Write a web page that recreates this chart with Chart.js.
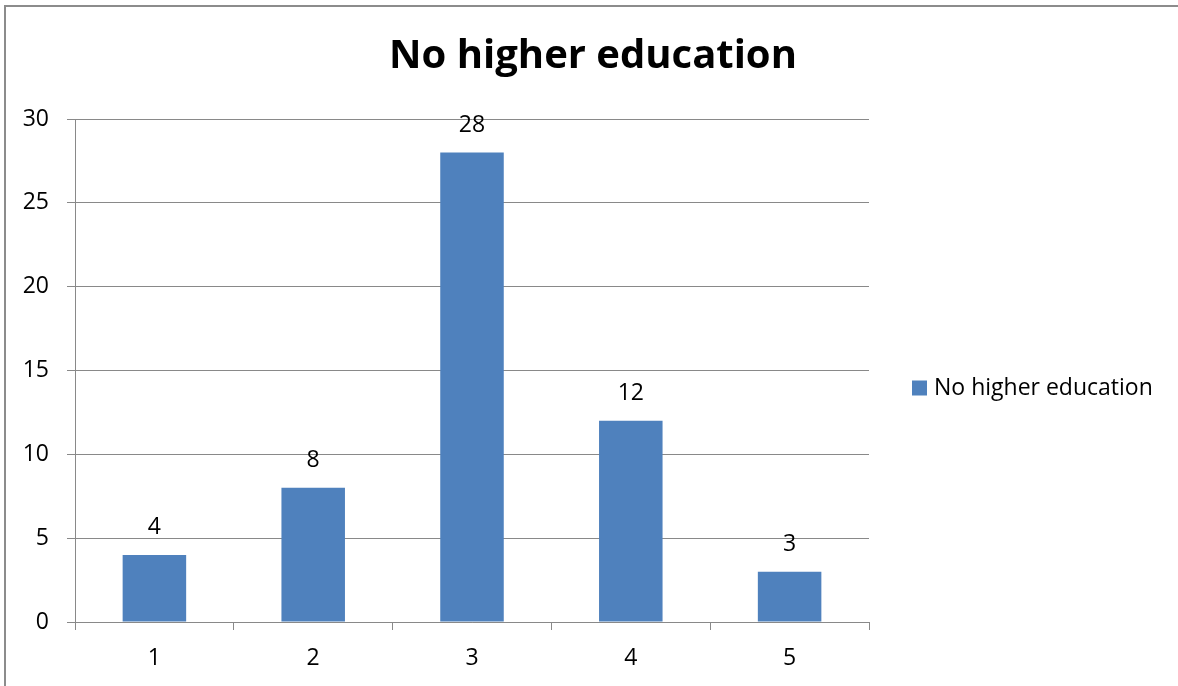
<!DOCTYPE html>
<html>
<head>
<meta charset="utf-8">
<script src="https://cdn.jsdelivr.net/npm/chart.js@4"></script>
<style>
html,body{margin:0;padding:0;background:#fff;}
canvas{display:block;}
</style>
</head>
<body>
<canvas id="c" width="1178" height="686"></canvas>
<script>
const categories = ['1', '2', '3', '4', '5'];
const seriesName = 'No higher education';
const chartTitle = 'No higher education';
const values = [4, 8, 28, 12, 3];
const yTicks = [0, 5, 10, 15, 20, 25, 30];

const FONT = "'Open Sans', 'Liberation Sans', sans-serif";
const BAR = '#4F81BD';
const GRID = '#898989';

const frame = {
  id: 'frame',
  beforeDraw(chart) {
    const ctx = chart.ctx;
    ctx.save();
    ctx.strokeStyle = '#8c8c8c';
    ctx.lineWidth = 2;
    ctx.beginPath();
    ctx.moveTo(5, 700);
    ctx.lineTo(5, 6);
    ctx.lineTo(1200, 6);
    ctx.stroke();
    ctx.restore();
  }
};

const titlePlugin = {
  id: 'titlePlugin',
  afterDraw(chart) {
    const ctx = chart.ctx;
    ctx.save();
    ctx.font = 'bold 40px ' + FONT;
    ctx.fillStyle = '#000';
    ctx.textAlign = 'center';
    ctx.textBaseline = 'middle';
    ctx.fillText(chartTitle, 593, 57);
    ctx.restore();
  }
};

const valueLabels = {
  id: 'valueLabels',
  afterDatasetsDraw(chart) {
    const ctx = chart.ctx;
    ctx.save();
    ctx.font = '23px ' + FONT;
    ctx.fillStyle = '#000';
    ctx.textAlign = 'center';
    ctx.textBaseline = 'middle';
    const meta = chart.getDatasetMeta(0);
    meta.data.forEach((el, i) => {
      ctx.fillText(String(chart.data.datasets[0].data[i]), el.x, el.y - 27);
    });
    ctx.restore();
  }
};

const sideLegend = {
  id: 'sideLegend',
  afterDraw(chart) {
    const ctx = chart.ctx;
    const ds = chart.data.datasets[0];
    const x = chart.chartArea.right + 43;
    const y = 388;
    ctx.save();
    ctx.fillStyle = ds.backgroundColor;
    ctx.fillRect(x, y - 7.5, 15, 15);
    ctx.font = '23px ' + FONT;
    ctx.fillStyle = '#000';
    ctx.textAlign = 'left';
    ctx.textBaseline = 'middle';
    ctx.fillText(ds.label, x + 22, y);
    ctx.restore();
  }
};

new Chart(document.getElementById('c'), {
  type: 'bar',
  data: {
    labels: categories,
    datasets: [{
      label: seriesName,
      data: values,
      backgroundColor: BAR,
      categoryPercentage: 1,
      barPercentage: 0.4
    }]
  },
  options: {
    responsive: false,
    animation: false,
    layout: { padding: { left: 0, right: 309, top: 119, bottom: 0 } },
    plugins: {
      legend: { display: false },
      tooltip: { enabled: false },
      title: { display: false }
    },
    scales: {
      x: {
        offset: true,
        grid: { display: true, drawOnChartArea: false, drawTicks: true, tickLength: 8, color: GRID, offset: true },
        border: { display: true, color: GRID, width: 1 },
        ticks: { color: '#000', font: { family: FONT, size: 23 }, padding: 15 },
        afterFit(s) { s.height = 64; }
      },
      y: {
        min: 0, max: 30,
        afterBuildTicks(s) { s.ticks = yTicks.map(v => ({ value: v })); },
        grid: { color: GRID, tickLength: 8, drawTicks: true },
        border: { display: true, color: GRID, width: 1 },
        ticks: { color: '#000', font: { family: FONT, size: 23 }, padding: 18 },
        afterFit(s) { s.width = 75; }
      }
    }
  },
  plugins: [frame, titlePlugin, valueLabels, sideLegend]
});
</script>
</body>
</html>
